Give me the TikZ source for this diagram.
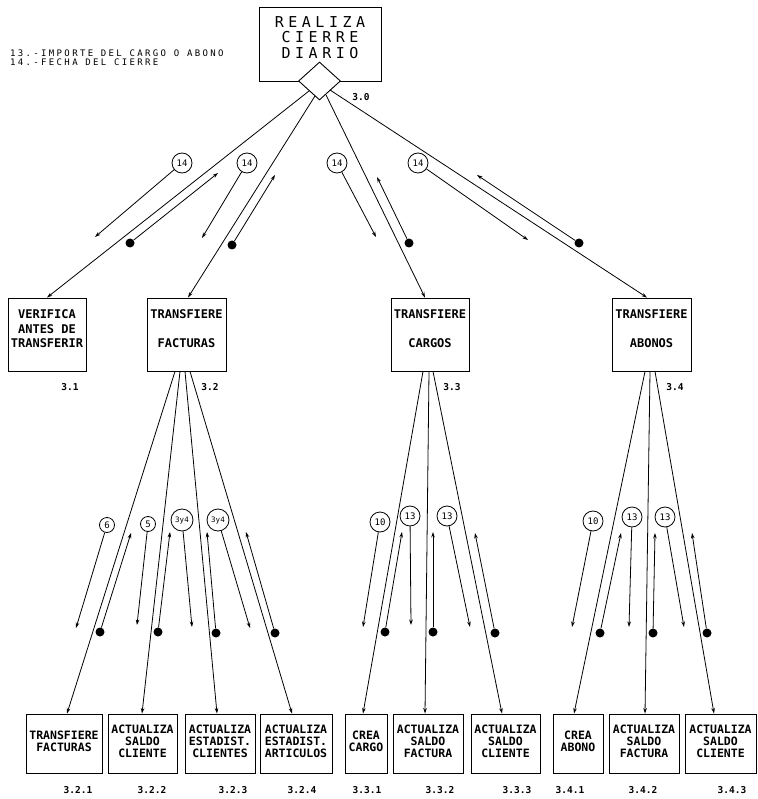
\documentclass[tikz,border=0pt]{standalone}
\usepackage{fontspec}
\setmainfont{DejaVu Sans Mono}
\newfontfamily\plotfont{DejaVu Sans Mono}
\newfontfamily\plottitle[LetterSpace=30]{DejaVu Sans Mono}
\newfontfamily\plotnote[LetterSpace=26]{DejaVu Sans Mono}
\usetikzlibrary{shapes.geometric,arrows.meta,calc}

% lines of a box, bottom baseline lowered by #1 so the block sits high in the box
\newcommand\boxlines[2]{\begin{tabular}[b]{@{}c@{}}#2\end{tabular}\rule[-#1]{0pt}{0pt}}

\tikzset{
  flow/.style={line width=0.8pt, -{Stealth[length=5.5pt,width=3.6pt]}},
  topbox/.style={draw, line width=0.9pt, inner sep=0pt, minimum width=122pt, minimum height=74pt,
    font=\plottitle\fontsize{15}{14.5}\selectfont},
  midbox/.style={draw, line width=0.9pt, inner sep=0pt, minimum height=73pt,
    font=\plotfont\bfseries\fontsize{12}{14.5}\selectfont},
  leafbox/.style={draw, line width=0.9pt, inner sep=0pt, minimum height=59pt,
    font=\plotfont\bfseries\fontsize{11.5}{11.8}\selectfont},
  decide/.style={diamond, draw, fill=white, line width=0.9pt, inner sep=0pt,
    minimum width=42pt, minimum height=38pt},
  numlbl/.style={inner sep=0pt, font=\plotfont\bfseries\fontsize{9.5}{10}\selectfont},
  note/.style={inner sep=0pt, font=\plotnote\fontsize{9}{9}\selectfont},
  couple/.style={draw, circle, line width=0.8pt, inner sep=0pt, minimum size=20pt,
    font=\plotfont\fontsize{9}{9}\selectfont},
  smallcouple/.style={couple, minimum size=15pt},
  widecouple/.style={couple, minimum size=22pt, font=\plotfont\fontsize{7.5}{8}\selectfont},
  datadot/.style={circle, fill=black, inner sep=0pt, minimum size=9pt},
}

\begin{document}
\begin{tikzpicture}[x=1pt,y=-1pt]
\useasboundingbox (0,0) rectangle (757,799);
\fill[white] (0,0) rectangle (757,799);

% legend of the data couples
\node[note, anchor=west] (leg13) at (10,53) {13.-IMPORTE DEL CARGO O ABONO};
\node[note, anchor=west] (leg14) at (10,62) {14.-FECHA DEL CIERRE};

% root process with its selection diamond
\node[topbox] (top) at (320,44) {\boxlines{13.5pt}{REALIZA\\CIERRE\\DIARIO}};
\node[decide] (dm) at (319.5,81) {};
\node[numlbl] (n30) at (361,97) {3.0};

% second level
\node[midbox, minimum width=78pt] (b31) at (47,334.5) {\boxlines{13.15pt}{VERIFICA\\ANTES DE\\TRANSFERIR}};
\node[midbox, minimum width=79pt] (b32) at (186.5,334.5) {\boxlines{13.15pt}{TRANSFIERE\\ \\FACTURAS}};
\node[midbox, minimum width=78pt] (b33) at (430,334.5) {\boxlines{13.15pt}{TRANSFIERE\\ \\CARGOS}};
\node[midbox, minimum width=79pt] (b34) at (651.5,334.5) {\boxlines{13.15pt}{TRANSFIERE\\ \\ABONOS}};
\node[numlbl] (n31) at (70,387) {3.1};
\node[numlbl] (n32) at (210,387) {3.2};
\node[numlbl] (n33) at (452,387) {3.3};
\node[numlbl] (n34) at (675,387) {3.4};

% third level
\node[leafbox, minimum width=76pt] (b321) at (64,743.5) {\boxlines{4.9pt}{TRANSFIERE\\FACTURAS\\ }};
\node[leafbox, minimum width=69pt] (b322) at (142.5,743.5) {\boxlines{4.9pt}{ACTUALIZA\\SALDO\\CLIENTE}};
\node[leafbox, minimum width=70pt] (b323) at (220,743.5) {\boxlines{4.9pt}{ACTUALIZA\\ESTADIST.\\CLIENTES}};
\node[leafbox, minimum width=72pt] (b324) at (296,743.5) {\boxlines{4.9pt}{ACTUALIZA\\ESTADIST.\\ARTICULOS}};
\node[leafbox, minimum width=42pt] (b331) at (366,743.5) {\boxlines{4.9pt}{CREA\\CARGO\\ }};
\node[leafbox, minimum width=70pt] (b332) at (428,743.5) {\boxlines{4.9pt}{ACTUALIZA\\SALDO\\FACTURA}};
\node[leafbox, minimum width=69pt] (b333) at (505.5,743.5) {\boxlines{4.9pt}{ACTUALIZA\\SALDO\\CLIENTE}};
\node[leafbox, minimum width=50pt] (b341) at (578,743.5) {\boxlines{4.9pt}{CREA\\ABONO\\ }};
\node[leafbox, minimum width=70pt] (b342) at (644,743.5) {\boxlines{4.9pt}{ACTUALIZA\\SALDO\\FACTURA}};
\node[leafbox, minimum width=71pt] (b343) at (720.5,743.5) {\boxlines{4.9pt}{ACTUALIZA\\SALDO\\CLIENTE}};
\node[numlbl] (n321) at (78,790) {3.2.1};
\node[numlbl] (n322) at (152,790) {3.2.2};
\node[numlbl] (n323) at (233,790) {3.2.3};
\node[numlbl] (n324) at (302,790) {3.2.4};
\node[numlbl] (n331) at (367,790) {3.3.1};
\node[numlbl] (n332) at (440,790) {3.3.2};
\node[numlbl] (n333) at (517,790) {3.3.3};
\node[numlbl] (n341) at (570,790) {3.4.1};
\node[numlbl] (n342) at (643,790) {3.4.2};
\node[numlbl] (n343) at (732,790) {3.4.3};

% calls from the root
\draw[flow] ([shift={(-10.5,10)}]dm.center) -- (b31.north);
\draw[flow] ([shift={(-4.5,15)}]dm.center) -- ([xshift=1.5pt]b32.north);
\draw[flow] ([shift={(6.5,14)}]dm.center) -- ([xshift=-5pt]b33.north);
\draw[flow] ([shift={(10.5,9)}]dm.center) -- ([xshift=-4.5pt]b34.north);

% calls from 3.2, 3.3, 3.4
\draw[flow] ([xshift=-11.5pt]b32.south) -- ([xshift=3pt]b321.north);
\draw[flow] ([xshift=-6.5pt]b32.south) -- ([xshift=-0.5pt]b322.north);
\draw[flow] ([xshift=-1.5pt]b32.south) -- ([xshift=-3pt]b323.north);
\draw[flow] ([xshift=3.5pt]b32.south) -- ([xshift=-4pt]b324.north);
\draw[flow] ([xshift=-7pt]b33.south) -- ([xshift=-3pt]b331.north);
\draw[flow] ([xshift=-1pt]b33.south) -- ([xshift=-3pt]b332.north);
\draw[flow] ([xshift=3pt]b33.south) -- ([xshift=-3.5pt]b333.north);
\draw[flow] ([xshift=-6.5pt]b34.south) -- ([xshift=-4pt]b341.north);
\draw[flow] ([xshift=-1.5pt]b34.south) -- ([xshift=1pt]b342.north);
\draw[flow] ([xshift=3.5pt]b34.south) -- ([xshift=-6.5pt]b343.north);

% couples passed by the root
\node[couple] (k1) at (182,163) {14};
\node[couple] (k2) at (247,163) {14};
\node[couple] (k3) at (337,163) {14};
\node[couple] (k4) at (418,163) {14};
\coordinate (k1t) at (95,237);
\coordinate (k2t) at (202,238);
\coordinate (k3t) at (376,237);
\coordinate (k4t) at (528,240);
\draw[flow] (k1) -- (k1t);
\draw[flow] (k2) -- (k2t);
\draw[flow] (k3) -- (k3t);
\draw[flow] (k4) -- (k4t);
\node[datadot] (p1) at (130,243) {};
\node[datadot] (p2) at (232,245) {};
\node[datadot] (p3) at (409,243) {};
\node[datadot] (p4) at (579,243) {};
\coordinate (p1t) at (218,173);
\coordinate (p2t) at (275,175);
\coordinate (p3t) at (377,177);
\coordinate (p4t) at (477,175);
\draw[flow] (p1) -- (p1t);
\draw[flow] (p2) -- (p2t);
\draw[flow] (p3) -- (p3t);
\draw[flow] (p4) -- (p4t);

% couples below 3.2
\node[smallcouple] (k21) at (107,525) {6};
\node[smallcouple] (k22) at (148,524) {5};
\node[widecouple] (k23) at (182,520) {3y4};
\node[widecouple] (k24) at (218,520) {3y4};
\coordinate (k21t) at (76,628);
\coordinate (k22t) at (137,625);
\coordinate (k23t) at (192,627);
\coordinate (k24t) at (250,628);
\draw[flow] (k21) -- (k21t);
\draw[flow] (k22) -- (k22t);
\draw[flow] (k23) -- (k23t);
\draw[flow] (k24) -- (k24t);
\node[datadot] (p21) at (100,632) {};
\node[datadot] (p22) at (158,632) {};
\node[datadot] (p23) at (216,633) {};
\node[datadot] (p24) at (275,633) {};
\coordinate (p21t) at (131,533);
\coordinate (p22t) at (170,532);
\coordinate (p23t) at (207,532);
\coordinate (p24t) at (246,532);
\draw[flow] (p21) -- (p21t);
\draw[flow] (p22) -- (p22t);
\draw[flow] (p23) -- (p23t);
\draw[flow] (p24) -- (p24t);

% couples below 3.3
\node[couple] (k31) at (380,522) {10};
\node[couple] (k32) at (410,516) {13};
\node[couple] (k33) at (447,516) {13};
\coordinate (k31t) at (363,627);
\coordinate (k32t) at (411,625);
\coordinate (k33t) at (470,627);
\draw[flow] (k31) -- (k31t);
\draw[flow] (k32) -- (k32t);
\draw[flow] (k33) -- (k33t);
\node[datadot] (p31) at (385,632) {};
\node[datadot] (p32) at (433,632) {};
\node[datadot] (p33) at (495,633) {};
\coordinate (p31t) at (402,532);
\coordinate (p32t) at (433,532);
\coordinate (p33t) at (475,533);
\draw[flow] (p31) -- (p31t);
\draw[flow] (p32) -- (p32t);
\draw[flow] (p33) -- (p33t);

% couples below 3.4
\node[couple] (k41) at (593,521) {10};
\node[couple] (k42) at (632,517) {13};
\node[couple] (k43) at (665,517) {13};
\coordinate (k41t) at (572,627);
\coordinate (k42t) at (629,627);
\coordinate (k43t) at (684,627);
\draw[flow] (k41) -- (k41t);
\draw[flow] (k42) -- (k42t);
\draw[flow] (k43) -- (k43t);
\node[datadot] (p41) at (600,633) {};
\node[datadot] (p42) at (653,633) {};
\node[datadot] (p43) at (707,633) {};
\coordinate (p41t) at (621,533);
\coordinate (p42t) at (655,533);
\coordinate (p43t) at (692,533);
\draw[flow] (p41) -- (p41t);
\draw[flow] (p42) -- (p42t);
\draw[flow] (p43) -- (p43t);
\end{tikzpicture}
\end{document}
